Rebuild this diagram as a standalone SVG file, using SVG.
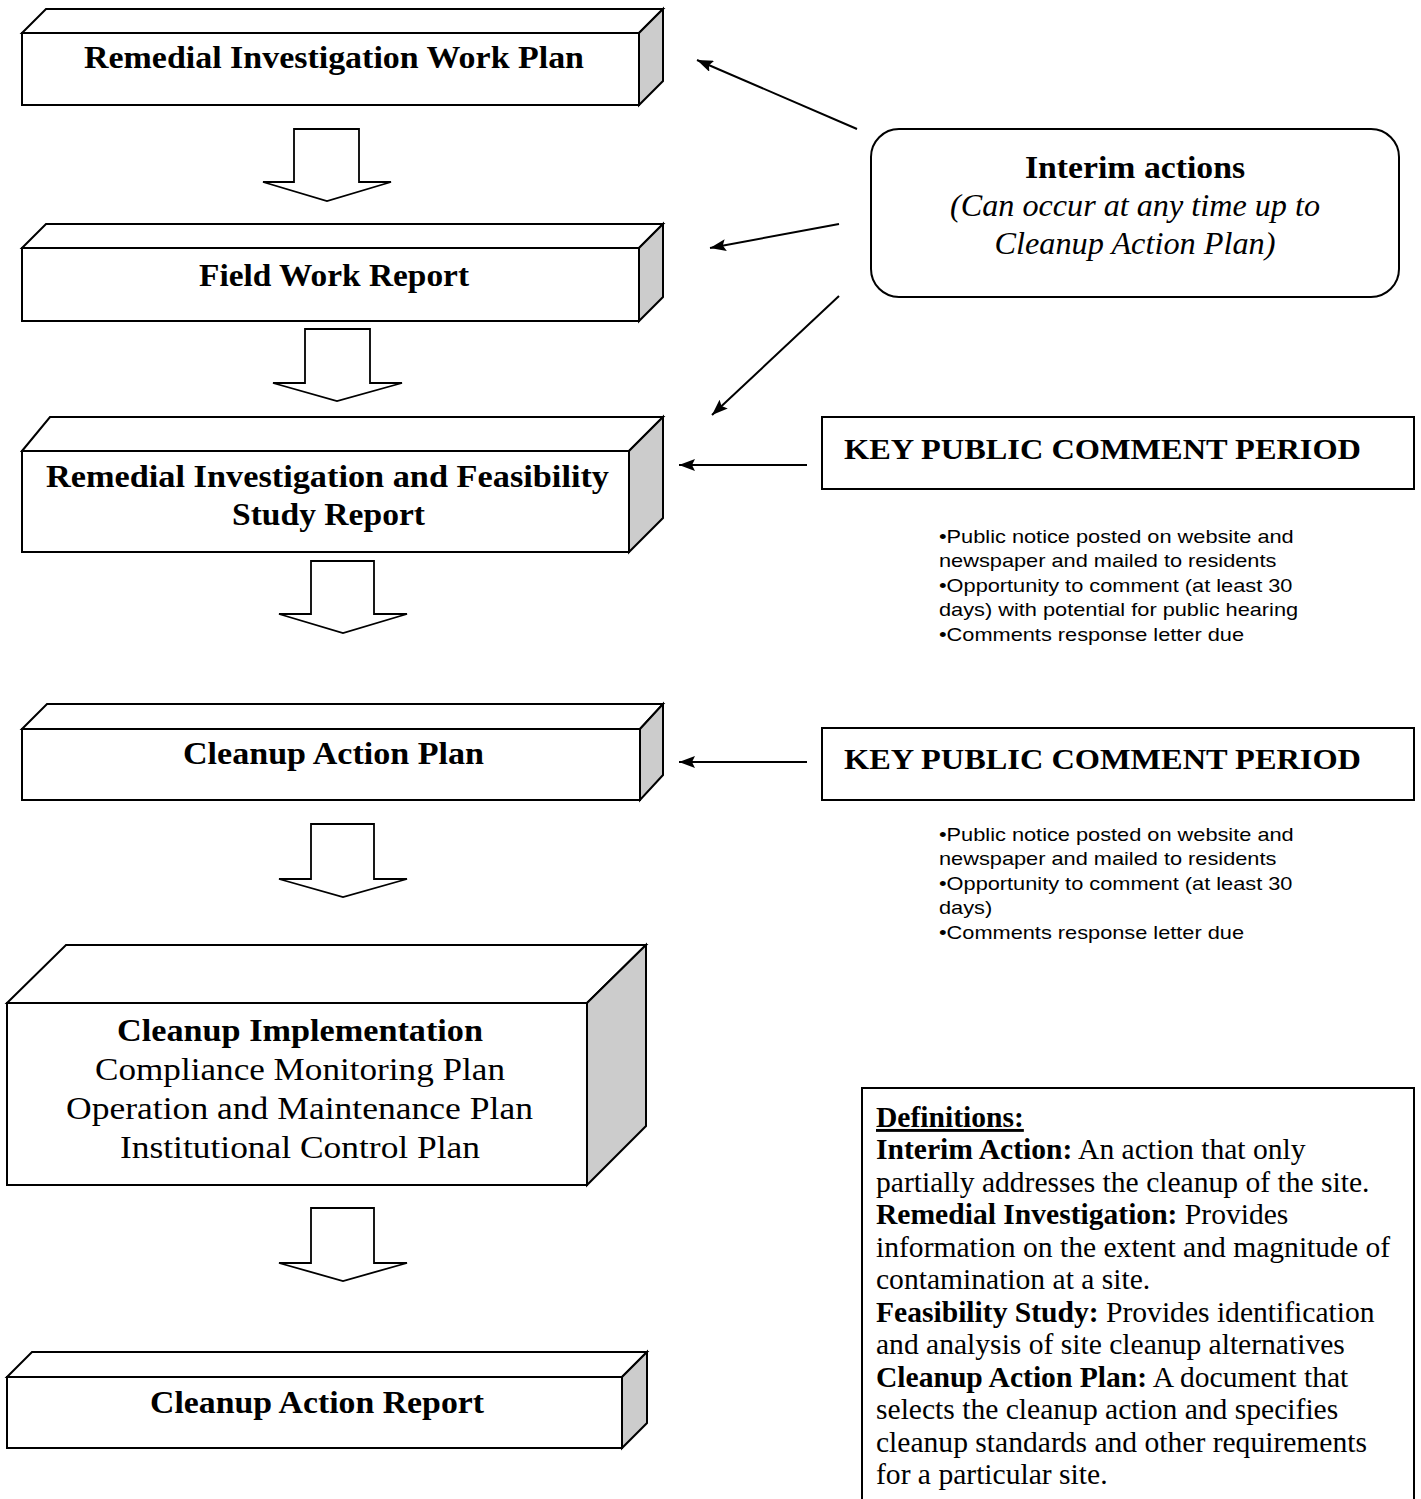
<svg xmlns="http://www.w3.org/2000/svg" width="1421" height="1499" viewBox="0 0 1421 1499">
<style>
.face{fill:#fff;stroke:#000;stroke-width:2;stroke-linejoin:miter}
.side{fill:#cccccc;stroke:#000;stroke-width:2;stroke-linejoin:miter}
.blk{fill:#fff;stroke:#000;stroke-width:1.8;stroke-linejoin:miter}
.conn{stroke:#000;stroke-width:2;fill:none;marker-end:url(#ah)}
.sb{font-family:"Liberation Serif",serif;font-weight:bold;font-size:32px;fill:#000}
.sr{font-family:"Liberation Serif",serif;font-size:31px;fill:#000}
.si{font-family:"Liberation Serif",serif;font-style:italic;font-size:31px;fill:#000}
.key{font-family:"Liberation Serif",serif;font-weight:bold;font-size:30px;fill:#000}
.bul{font-family:"Liberation Sans",Arial,sans-serif;font-size:18.6px;fill:#000}
.def{font-family:"Liberation Serif",serif;font-size:29px;fill:#000}
.def .b{font-weight:bold}
</style>
<defs>
<marker id="ah" viewBox="0 0 16 12" refX="16" refY="6" markerWidth="16" markerHeight="12" markerUnits="userSpaceOnUse" orient="auto">
<path d="M0,0 L16,6 L0,12 L3,6 z" fill="#000"/>
</marker>
</defs>
<rect width="1421" height="1499" fill="#fff"/>

<g id="box-riwp">
<polygon class="face" points="22,33 46,9 663,9 639,33"/>
<polygon class="side" points="639,33 663,9 663,81 639,105"/>
<rect class="face" x="22" y="33" width="617" height="72"/>
<text class="sb" x="84" y="68" textLength="500" lengthAdjust="spacingAndGlyphs">Remedial Investigation Work Plan</text>
</g>

<g id="box-fwr">
<polygon class="face" points="22,248 46,224 663,224 639,248"/>
<polygon class="side" points="639,248 663,224 663,297 639,321"/>
<rect class="face" x="22" y="248" width="617" height="73"/>
<text class="sb" x="199" y="286" textLength="270" lengthAdjust="spacingAndGlyphs">Field Work Report</text>
</g>

<g id="box-rifs">
<polygon class="face" points="22,451 50,417 663,417 629,451"/>
<polygon class="side" points="629,451 663,417 663,518 629,552"/>
<rect class="face" x="22" y="451" width="607" height="101"/>
<text class="sb" x="46" y="487" textLength="563" lengthAdjust="spacingAndGlyphs">Remedial Investigation and Feasibility</text>
<text class="sb" x="232" y="525" textLength="193" lengthAdjust="spacingAndGlyphs">Study Report</text>
</g>

<g id="box-cap">
<polygon class="face" points="22,729 47,704 663,704 640,729"/>
<polygon class="side" points="640,729 663,704 663,775 640,800"/>
<rect class="face" x="22" y="729" width="618" height="71"/>
<text class="sb" x="183" y="764" textLength="301" lengthAdjust="spacingAndGlyphs">Cleanup Action Plan</text>
</g>

<g id="box-ci">
<polygon class="face" points="7,1003 66,945 646,945 587,1003"/>
<polygon class="side" points="587,1003 646,945 646,1126 587,1185"/>
<rect class="face" x="7" y="1003" width="580" height="182"/>
<text class="sb" x="117" y="1041" textLength="366" lengthAdjust="spacingAndGlyphs">Cleanup Implementation</text>
<text class="sr" x="95" y="1080" textLength="410" lengthAdjust="spacingAndGlyphs">Compliance Monitoring Plan</text>
<text class="sr" x="66" y="1119" textLength="467" lengthAdjust="spacingAndGlyphs">Operation and Maintenance Plan</text>
<text class="sr" x="120" y="1158" textLength="360" lengthAdjust="spacingAndGlyphs">Institutional Control Plan</text>
</g>

<g id="box-car">
<polygon class="face" points="7,1377 32,1352 647,1352 622,1377"/>
<polygon class="side" points="622,1377 647,1352 647,1423 622,1448"/>
<rect class="face" x="7" y="1377" width="615" height="71"/>
<text class="sb" x="150" y="1413" textLength="334" lengthAdjust="spacingAndGlyphs">Cleanup Action Report</text>
</g>

<g id="flow-arrows">
<path class="blk" d="M294,129 H359 V182 H391 L327,201 L263,182 H294 Z"/>
<path class="blk" d="M305,329 H370 V383 H402 L337,401 L273,383 H305 Z"/>
<path class="blk" d="M311,561 H374 V614 H407 L343,633 L279,614 H311 Z"/>
<path class="blk" d="M311,824 H374 V879 H407 L343,897 L279,879 H311 Z"/>
<path class="blk" d="M311,1208 H374 V1263 H407 L343,1281 L279,1263 H311 Z"/>
</g>

<g id="interim">
<rect class="face" x="871" y="129" width="528" height="168" rx="28" ry="28"/>
<text class="sb" x="1135" y="178" text-anchor="middle" textLength="220" lengthAdjust="spacingAndGlyphs">Interim actions</text>
<text class="si" x="1135" y="216" text-anchor="middle" textLength="370" lengthAdjust="spacingAndGlyphs">(Can occur at any time up to</text>
<text class="si" x="1135" y="254" text-anchor="middle" textLength="281" lengthAdjust="spacingAndGlyphs">Cleanup Action Plan)</text>
</g>

<g id="kpcp-1">
<rect class="face" x="822" y="417" width="592" height="72"/>
<text class="key" x="844" y="459" textLength="517" lengthAdjust="spacingAndGlyphs">KEY PUBLIC COMMENT PERIOD</text>
</g>
<g id="notes-1" transform="translate(939,0) scale(1.17,1)">
<text class="bul" x="0" y="543">•Public notice posted on website and</text>
<text class="bul" x="0" y="567.5">newspaper and mailed to residents</text>
<text class="bul" x="0" y="592">•Opportunity to comment (at least 30</text>
<text class="bul" x="0" y="616.5">days) with potential for public hearing</text>
<text class="bul" x="0" y="641">•Comments response letter due</text>
</g>

<g id="kpcp-2">
<rect class="face" x="822" y="728" width="592" height="72"/>
<text class="key" x="844" y="769" textLength="517" lengthAdjust="spacingAndGlyphs">KEY PUBLIC COMMENT PERIOD</text>
</g>
<g id="notes-2" transform="translate(939,0) scale(1.17,1)">
<text class="bul" x="0" y="841">•Public notice posted on website and</text>
<text class="bul" x="0" y="865.5">newspaper and mailed to residents</text>
<text class="bul" x="0" y="890">•Opportunity to comment (at least 30</text>
<text class="bul" x="0" y="914.5">days)</text>
<text class="bul" x="0" y="939">•Comments response letter due</text>
</g>

<g id="definitions">
<path d="M862,1499 V1088 H1414 V1499" fill="#fff" stroke="#000" stroke-width="2"/>
<g transform="translate(876,0) scale(1.02,1)">
<text class="def" x="0" y="1127"><tspan class="b" text-decoration="underline">Definitions:</tspan></text>
<text class="def" x="0" y="1159.5"><tspan class="b">Interim Action:</tspan> An action that only</text>
<text class="def" x="0" y="1192">partially addresses the cleanup of the site.</text>
<text class="def" x="0" y="1224.5"><tspan class="b">Remedial Investigation:</tspan> Provides</text>
<text class="def" x="0" y="1257">information on the extent and magnitude of</text>
<text class="def" x="0" y="1289.5">contamination at a site.</text>
<text class="def" x="0" y="1322"><tspan class="b">Feasibility Study:</tspan> Provides identification</text>
<text class="def" x="0" y="1354.5">and analysis of site cleanup alternatives</text>
<text class="def" x="0" y="1387"><tspan class="b">Cleanup Action Plan:</tspan> A document that</text>
<text class="def" x="0" y="1419.5">selects the cleanup action and specifies</text>
<text class="def" x="0" y="1452">cleanup standards and other requirements</text>
<text class="def" x="0" y="1484.5">for a particular site.</text>
</g>
</g>

<g id="connectors">
<path class="conn" d="M857,129 L697,60"/>
<path class="conn" d="M839,224 L710,248"/>
<path class="conn" d="M839,296 L712,415"/>
<path class="conn" d="M807,465 L679,465"/>
<path class="conn" d="M807,762 L679,762"/>
</g>
</svg>
